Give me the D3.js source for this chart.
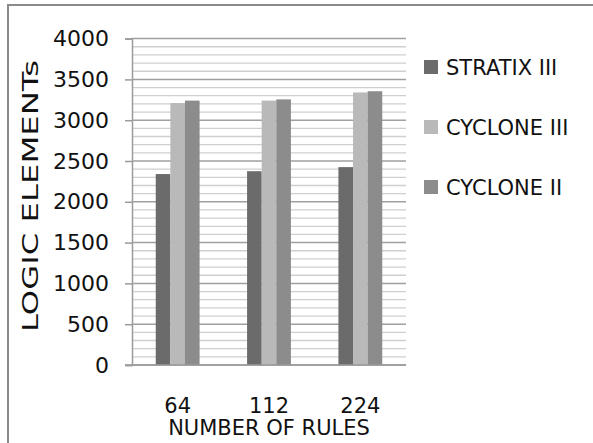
<!DOCTYPE html>
<html><head><meta charset="utf-8">
<script src="https://cdn.jsdelivr.net/npm/d3@7"></script>
<style>
body{margin:0;background:#fff;}
svg{display:block;}
text{font-family:"DejaVu Sans",sans-serif;fill:#111;}
</style></head>
<body>
<script>
const categories = ["64", "112", "224"];
const seriesNames = ["STRATIX III", "CYCLONE III", "CYCLONE II"];
const stratixIII = [2340, 2375, 2425];
const cycloneIII = [3210, 3240, 3340];
const cycloneII = [3240, 3255, 3355];
const yTicks = [0, 500, 1000, 1500, 2000, 2500, 3000, 3500, 4000];
const colors = ["#6b6b6b", "#b9b9b9", "#8c8c8c"];

const series = [stratixIII, cycloneIII, cycloneII];
const W = 593, H = 443;
const m = {left: 132, right: 406, top: 38.6, bottom: 365};
const FS = "21px";

const svg = d3.select("body").append("svg").attr("width", W).attr("height", H);

// outer frame
svg.append("line").attr("x1", 8).attr("x2", W).attr("y1", 5).attr("y2", 5).attr("stroke", "#8a8a8a").attr("stroke-width", 2);
svg.append("line").attr("x1", 8).attr("x2", 8).attr("y1", 4).attr("y2", H).attr("stroke", "#8a8a8a").attr("stroke-width", 2);

const y = d3.scaleLinear().domain([0, 4000]).range([m.bottom, m.top]);
const x0 = d3.scaleBand().domain(categories).range([m.left, m.right]).paddingInner(0.52).paddingOuter(0.26);
const x1 = d3.scaleBand().domain(seriesNames).range([0, x0.bandwidth()]);

// minor gridlines
const minor = d3.range(0, 4001, 100).filter(v => v % 500 !== 0);
svg.append("g").selectAll("line").data(minor).join("line")
  .attr("x1", m.left).attr("x2", m.right)
  .attr("y1", d => y(d)).attr("y2", d => y(d))
  .attr("stroke", "#cfcfcf").attr("stroke-width", 1.3);

// major gridlines + y axis
const yAxis = d3.axisLeft(y).tickValues(yTicks).tickFormat(d3.format("d")).tickSize(7).tickPadding(16);
const gy = svg.append("g").attr("transform", `translate(${m.left},0)`).call(yAxis);
gy.select(".domain").attr("stroke", "#9a9a9a").attr("stroke-width", 1.5);
gy.selectAll(".tick line").attr("stroke", "#9a9a9a").attr("stroke-width", 1.5);
gy.selectAll(".tick text").style("font-size", "22px").style("font-family", "DejaVu Sans").attr("fill", "#111");
svg.append("g").selectAll("line").data(yTicks).join("line")
  .attr("x1", m.left).attr("x2", m.right)
  .attr("y1", d => y(d)).attr("y2", d => y(d))
  .attr("stroke", "#a0a0a0").attr("stroke-width", 1.5);

// bars
const groups = svg.append("g").selectAll("g").data(categories).join("g")
  .attr("transform", d => `translate(${x0(d)},0)`);
groups.selectAll("rect").data((c, i) => series.map((s, k) => ({name: seriesNames[k], v: s[i], k})))
  .join("rect")
  .attr("x", d => x1(d.name)).attr("width", x1.bandwidth())
  .attr("y", d => y(d.v)).attr("height", d => y(0) - y(d.v))
  .attr("fill", d => colors[d.k]);

// x axis
const xAxis = d3.axisBottom(x0).tickSize(0).tickPadding(33);
const gx = svg.append("g").attr("transform", `translate(0,${m.bottom})`).call(xAxis);
gx.select(".domain").remove();
gx.selectAll(".tick text").style("font-size", FS).style("font-family", "DejaVu Sans").attr("fill", "#111");
svg.append("line").attr("x1", m.left - 7).attr("x2", m.right).attr("y1", m.bottom).attr("y2", m.bottom)
  .attr("stroke", "#9a9a9a").attr("stroke-width", 1.5);

// axis titles
svg.append("text").attr("x", (m.left + m.right) / 2).attr("y", 435)
  .attr("text-anchor", "middle").style("font-size", FS).text("NUMBER OF RULES");
svg.append("text").attr("transform", `translate(37.5,196) rotate(-90)`)
  .attr("text-anchor", "middle").style("font-size", FS)
  .attr("textLength", 272).attr("lengthAdjust", "spacingAndGlyphs").text("LOGIC ELEMENTs");

// legend
const leg = svg.append("g").selectAll("g").data(seriesNames).join("g")
  .attr("transform", (d, i) => `translate(424,${67 + i * 60})`);
leg.append("rect").attr("x", 0).attr("y", -7).attr("width", 14).attr("height", 14).attr("fill", (d, i) => colors[i]);
leg.append("text").attr("x", 22).attr("y", 7.5).style("font-size", FS).text(d => d);
</script>
</body></html>
